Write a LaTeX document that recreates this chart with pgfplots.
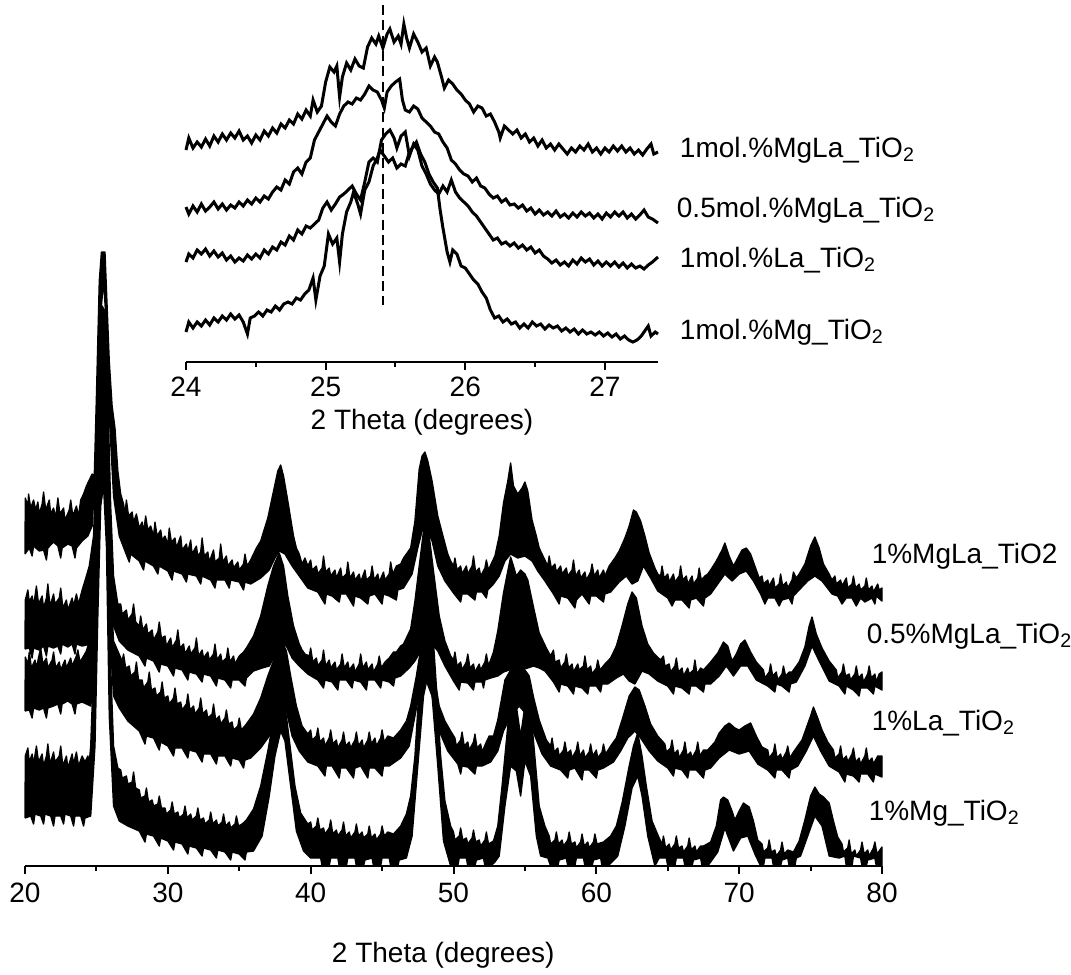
\documentclass[border=0pt]{standalone}
\usepackage{fontspec}
\setmainfont{Liberation Sans}
\usepackage{pgfplots}
\pgfplotsset{compat=1.18}
\pgfplotsset{
  xrdaxis/.style={
    scale only axis, axis x line=bottom, axis y line=none,
    x axis line style={-, line width=0.6pt},
    tick align=outside, major tick length=2.4pt, minor tick length=1.5pt,
    every tick/.style={line width=0.6pt, black},
    /pgf/number format/assume math mode=true,
    clip=false,
  },
  band/.style={fill=black, draw=black, line width=0.4pt, line join=round},
}
\begin{document}
\begin{tikzpicture}[font=\fontsize{8.4}{10}\selectfont]
\useasboundingbox (0,0) rectangle (321.3pt,-292.2pt);

% main pattern, each series drawn as a filled band (upper envelope, then lower envelope back)
\begin{axis}[xrdaxis,
  at={(7.5pt,-259.8pt)}, anchor=south west,
  width=257.1pt, height=186pt,
  xmin=20, xmax=80, ymin=0, ymax=620,
  xtick={20,30,...,80}, minor xtick={25,35,...,75},
  xticklabel style={anchor=center, yshift=-5.6pt},
  xlabel={2 Theta (degrees)},
  xlabel style={at={(axis description cs:0.488,0)}, anchor=center, yshift=-26.7pt},
]
% 1%MgLa_TiO2
\addplot[band] coordinates {
(20,312)(20.02,368)(20.2,360)(20.25,372)(20.4,358)(20.6,366)(20.75,356)(20.9,364)(21.0,352)(21.2,362)(21.3,374)(21.45,356)(21.7,366)(21.8,352)(22.0,358)(22.15,348)(22.3,368)(22.45,352)(22.7,358)(22.8,346)(23.1,356)(23.2,366)(23.35,350)(23.6,360)(23.75,350)(23.9,366)(24.1,372)(24.3,380)(24.5,386)(24.7,392)(24.85,390)
(25.0,470)(25.2,585)(25.35,614)(25.6,614)(25.75,560)(25.9,505)(26.1,460)(26.3,438)(26.5,395)(26.7,372)
(26.9,362)(27.0,352)(27.1,366)(27.25,350)(27.5,354)(27.6,344)(27.8,352)(28.0,338)(28.2,344)(28.3,334)(28.45,350)(28.6,336)(28.8,340)(29.0,330)(29.1,344)(29.25,330)(29.5,336)(29.6,326)(29.8,330)(30.0,322)(30.1,338)(30.25,324)(30.5,328)(30.6,318)(30.9,330)(31.0,316)(31.3,322)(31.4,314)(31.6,326)(31.7,312)(32.0,320)(32.1,310)(32.3,314)(32.4,328)(32.55,310)(32.8,314)(32.9,304)(33.2,316)(33.3,304)(33.6,308)(33.7,322)(33.85,304)(34.1,310)(34.2,300)(34.5,306)(34.6,298)(34.9,304)(35.0,296)(35.3,302)(35.4,312)(35.55,300)(35.8,306)(36.0,312)(36.2,318)(36.5,325)
(37,348)(37.4,375)(37.7,395)(37.9,401)(38.1,390)(38.4,365)(38.8,330)(39.0,318)(39.2,312)(39.4,302)(39.6,308)
(39.8,300)(40.0,306)(40.1,296)(40.4,300)(40.5,292)(40.8,298)(40.9,310)(41.05,294)(41.3,298)(41.4,290)(41.7,296)(41.8,288)(42.1,298)(42.2,288)(42.5,292)(42.6,304)(42.75,288)(43.0,294)(43.1,286)(43.4,292)(43.5,284)(43.8,296)(43.9,286)(44.2,290)(44.3,300)(44.45,286)(44.7,292)(44.8,284)(45.1,294)(45.2,286)(45.5,292)(45.6,304)(45.75,292)(46.0,300)(46.3,302)(46.5,308)(46.7,312)
(47,318)(47.3,345)(47.6,397)(47.8,410)(48.0,414)(48.2,405)(48.5,385)(48.9,350)(49.3,328)(49.6,312)(49.8,305)
(50.0,300)(50.1,308)(50.25,296)(50.5,300)(50.6,292)(50.9,300)(51.0,292)(51.3,300)(51.4,310)(51.55,294)(51.8,298)(51.9,290)(52.2,298)(52.3,306)(52.45,296)(52.7,304)(52.9,310)
(53.2,330)(53.5,363)(53.8,385)(54.0,403)(54.2,380)(54.5,372)(54.8,378)(55.0,384)(55.2,375)(55.5,346)(55.8,330)(56.0,318)(56.2,312)(56.4,306)
(56.6,300)(56.7,310)(56.85,298)(57.1,302)(57.2,294)(57.5,300)(57.6,292)(57.9,298)(58.0,290)(58.3,296)(58.4,306)(58.55,290)(58.8,296)(58.9,288)(59.2,294)(59.3,286)(59.6,294)(59.7,302)(59.85,290)(60.1,296)(60.2,288)(60.5,296)(60.6,290)(60.9,300)(61.1,304)(61.3,308)
(61.6,315)(62.0,328)(62.3,340)(62.6,356)(62.8,354)(63.1,345)(63.4,330)(63.7,313)(64.1,298)(64.3,292)
(64.5,290)(64.6,300)(64.75,288)(65.0,292)(65.1,284)(65.4,292)(65.5,284)(65.8,290)(65.9,300)(66.05,286)(66.3,290)(66.4,282)(66.7,290)(66.8,282)(67.1,288)(67.2,298)(67.35,286)(67.6,290)(67.8,292)(68.0,296)
(68.4,305)(68.8,316)(69.0,323)(69.3,310)(69.6,300)(69.9,308)(70.2,316)(70.5,318)(70.8,312)(71.1,300)(71.4,288)
(71.6,290)(71.7,282)(72.0,286)(72.1,280)(72.4,288)(72.5,278)(72.8,282)(72.9,292)(73.05,280)(73.3,284)(73.4,278)(73.7,286)(73.8,294)(74.0,288)(74.2,292)
(74.6,302)(75.0,320)(75.3,329)(75.6,318)(75.9,302)(76.3,292)(76.5,286)
(76.7,290)(76.8,282)(77.1,286)(77.2,280)(77.5,288)(77.6,278)(77.9,282)(78.0,290)(78.15,278)(78.4,282)(78.5,276)(78.8,280)(78.9,288)(79.05,276)(79.3,280)(79.4,274)(79.7,282)(79.8,276)(80,278)
(80,265)(79.6,270)(79.5,262)(79.3,268)(78.8,264)(78.5,268)(78.2,260)(77.9,268)(77.5,268)(77.2,262)(76.9,270)(76.5,272)(75.8,285)(75.3,290)(74.8,285)(74.2,276)(73.8,270)(73.7,262)(73.5,268)(73.0,266)(72.8,260)(72.5,268)(72.0,268)(71.8,262)(71.5,272)(71.0,285)(70.5,295)(70.0,292)(69.5,285)(69.0,292)(68.5,282)(68.0,272)(67.6,268)(67.5,260)(67,268)(66.6,266)(66.5,258)(66,266)(65.5,266)(65.3,260)(65,268)(64.3,275)(63.8,288)(63.3,300)(62.9,285)(62.5,282)(62.1,290)(61.6,284)(61,274)(60.6,272)(60.5,264)(60,270)(59.6,270)(59.5,262)(59,272)(58.6,266)(58.5,258)(58,268)(57.5,270)(57.4,262)(57,272)(56.4,285)(55.9,295)(55.5,305)(55.0,310)(54.5,308)(54.0,312)(53.6,305)(53.2,290)(52.8,282)(52.4,276)(52.3,268)(52,274)(51.6,274)(51.5,266)(51,272)(50.6,272)(50.5,264)(50,273)(49.4,285)(48.9,300)(48.5,325)(48.1,338)(47.8,335)(47.5,318)(47.1,292)(46.5,278)(46.1,276)(46.0,266)(45.5,270)(45.1,272)(45.0,262)(44.5,272)(44.1,270)(44.0,262)(43.5,268)(43.1,270)(43.0,260)(42.5,272)(42.1,272)(42.0,264)(41.5,270)(41.1,272)(41.0,262)(40.5,274)(39.8,278)(39.2,290)(38.7,300)(38.2,312)(37.8,315)(37.5,308)(37.1,296)(36.5,288)(35.8,282)(35.4,284)(35.3,276)(35,284)(34.4,286)(34.3,278)(34,286)(33.4,286)(33.3,278)(33,286)(32.4,290)(32.3,282)(32,290)(31.4,292)(31.3,284)(31,292)(30.4,295)(30.3,286)(30,295)(29.4,300)(29.3,292)(29,300)(28.4,305)(28.3,296)(28,305)(27.4,312)(27.3,304)(27,315)(26.6,330)(26.2,370)(25.9,450)(25.7,540)(25.5,585)(25.35,560)(25.15,500)(24.95,400)(24.7,340)(24.4,330)(24.0,325)(23.6,318)(23.5,308)(23.3,320)(23,322)(22.6,318)(22.5,308)(22.3,320)(22,324)(21.6,318)(21.5,306)(21.3,316)(21,315)(20.6,320)(20.5,310)(20.3,318)(20,312)
};
% 0.5%MgLa_TiO2
\addplot[band] coordinates {
(20,217)(20.02,266)(20.2,276)(20.3,264)(20.5,270)(20.6,260)(20.8,280)(20.95,262)(21.2,270)(21.3,258)(21.5,268)(21.6,282)(21.75,260)(22.0,272)(22.1,262)(22.4,268)(22.5,278)(22.65,258)(22.9,266)(23.0,256)(23.3,268)(23.4,260)(23.6,272)(23.75,262)(24.0,276)(24.3,290)(24.5,300)(24.8,330)(25.0,420)(25.2,530)(25.4,560)(25.6,555)(25.8,470)(26.0,360)(26.2,290)(26.5,262)(26.7,262)(26.8,252)(27.1,256)(27.2,246)(27.5,252)(27.6,262)(27.75,244)(28.0,240)(28.1,250)(28.25,236)(28.5,242)(28.6,232)(28.9,236)(29.0,226)(29.3,234)(29.4,244)(29.55,228)(29.8,230)(29.9,220)(30.2,228)(30.3,218)(30.6,226)(30.7,236)(30.85,218)(31.1,222)(31.2,212)(31.5,220)(31.6,212)(31.9,218)(32.0,228)(32.15,210)(32.4,216)(32.5,208)(32.8,214)(32.9,206)(33.2,212)(33.3,222)(33.45,206)(33.7,212)(33.8,204)(34.1,208)(34.2,218)(34.35,204)(34.6,210)(34.7,202)(35.0,210)(35.3,214)(35.5,218)(36,230)(36.5,250)(37,280)(37.4,300)(37.8,313)(38.1,300)(38.4,270)(38.8,240)(39.2,222)(39.4,216)(39.6,212)(39.9,210)(40.0,218)(40.15,204)(40.4,208)(40.5,200)(40.8,206)(40.9,216)(41.05,200)(41.3,206)(41.4,198)(41.7,204)(41.8,196)(42.1,202)(42.2,212)(42.35,198)(42.6,204)(42.7,196)(43.0,202)(43.1,194)(43.4,202)(43.5,212)(43.65,198)(43.9,204)(44.0,196)(44.3,202)(44.4,194)(44.7,202)(44.8,210)(44.95,198)(45.2,204)(45.5,208)(45.8,214)(46,214)(46.3,220)(46.5,222)(47,237)(47.3,265)(47.6,300)(47.9,335)(48.1,340)(48.3,330)(48.6,295)(49,250)(49.4,225)(49.8,210)(50.0,206)(50.1,214)(50.25,200)(50.5,204)(50.6,196)(50.9,204)(51.0,212)(51.15,198)(51.4,202)(51.5,194)(51.8,202)(51.9,196)(52.2,204)(52.3,212)(52.45,200)(52.8,214)(53.1,235)(53.5,273)(53.8,295)(54.0,309)(54.2,300)(54.4,290)(54.7,296)(55.0,292)(55.2,286)(55.6,259)(56.0,233)(56.5,218)(56.8,210)(57.0,216)(57.1,204)(57.4,206)(57.5,198)(57.8,204)(57.9,212)(58.05,198)(58.3,202)(58.4,194)(58.7,202)(58.8,196)(59.1,200)(59.2,210)(59.35,196)(59.6,200)(59.7,192)(60.0,198)(60.1,206)(60.25,196)(60.6,202)(61,208)(61.4,220)(61.8,240)(62.2,262)(62.5,274)(62.8,268)(63.2,240)(63.6,222)(64,213)(64.5,206)(64.7,210)(64.8,200)(65.1,202)(65.2,194)(65.5,200)(65.6,208)(65.75,194)(66.0,198)(66.1,190)(66.4,198)(66.5,192)(66.8,196)(66.9,206)(67.05,192)(67.3,198)(67.5,196)(68,204)(68.5,213)(68.9,224)(69.2,220)(69.5,205)(69.8,212)(70.1,222)(70.4,226)(70.8,214)(71.2,204)(71.7,196)(71.8,188)(72.1,194)(72.2,202)(72.35,190)(72.6,194)(72.7,186)(73.0,192)(73.1,200)(73.25,190)(73.5,194)(73.7,194)(74.2,204)(74.6,219)(74.9,240)(75.1,249)(75.4,232)(75.8,218)(76.3,205)(76.8,196)(76.9,188)(77.2,194)(77.3,202)(77.45,190)(77.7,192)(77.8,186)(78.1,192)(78.2,200)(78.35,188)(78.6,192)(78.7,184)(79.0,192)(79.1,200)(79.25,188)(79.5,192)(79.6,184)(79.8,192)(80,194)
(80,176)(79.5,180)(79.4,172)(79,178)(78.5,178)(78.4,170)(78,176)(77.5,180)(77.4,172)(77,180)(76.3,185)(75.6,205)(75.1,220)(74.6,200)(74,184)(73.6,182)(73.5,174)(73,180)(72.6,182)(72.5,174)(72,180)(71.2,186)(70.6,200)(70.1,200)(69.6,190)(69.1,200)(68.6,190)(68,182)(67.6,182)(67.5,174)(67,180)(66.6,180)(66.5,172)(66,178)(65.5,180)(65.4,172)(65,180)(64.3,185)(63.7,192)(63.2,195)(62.7,182)(62.3,185)(61.9,192)(61.4,188)(60.8,182)(60.4,182)(60.3,174)(60,180)(59.5,180)(59.4,172)(59,178)(58.5,180)(58.4,172)(58,180)(57.5,182)(57.4,174)(57,184)(56.4,195)(56,198)(55.6,200)(55.2,198)(54.7,196)(54.3,198)(53.9,196)(53.5,194)(53.1,190)(52.6,188)(52.2,186)(52.1,178)(52,184)(51.5,184)(51.4,176)(51,183)(50.5,184)(50.4,176)(50,185)(49.4,200)(48.9,215)(48.5,222)(48.1,222)(47.7,215)(47.3,205)(46.9,198)(46.3,190)(45.9,188)(45.8,180)(45.5,184)(45.0,186)(44.9,178)(44.5,186)(44.0,186)(43.9,176)(43.5,184)(43.0,186)(42.9,178)(42.5,186)(42.0,186)(41.9,176)(41.5,184)(41.0,186)(40.9,178)(40.5,186)(39.8,192)(39.2,200)(38.7,208)(38.3,220)(37.9,222)(37.5,210)(37.1,200)(36.6,198)(36,195)(35.5,188)(35.4,180)(35,186)(34.5,186)(34.4,178)(34,186)(33.5,188)(33.4,180)(33,190)(32.5,192)(32.4,184)(32,192)(31.5,194)(31.4,186)(31,196)(30.5,198)(30.4,190)(30,200)(29.5,202)(29.4,194)(29,205)(28.5,208)(28.4,200)(28,210)(27.2,216)(26.6,225)(26.2,240)(25.9,300)(25.7,430)(25.5,480)(25.3,470)(25.1,380)(24.9,260)(24.6,222)(24,220)(23.6,222)(23.5,212)(23.3,222)(23,219)(22.6,222)(22.5,212)(22.3,220)(22,218)(21.6,220)(21.5,210)(21.3,220)(21,216)(20.6,218)(20.5,208)(20.3,218)(20,217)
};
% 1%La_TiO2
\addplot[band] coordinates {
(20,155)(20.02,209)(20.2,202)(20.3,214)(20.45,198)(20.7,206)(20.8,198)(21.0,212)(21.1,218)(21.25,202)(21.5,208)(21.6,198)(21.9,206)(22.0,214)(22.15,198)(22.4,204)(22.5,196)(22.8,206)(22.9,198)(23.2,208)(23.3,200)(23.6,210)(23.7,216)(23.85,204)(24.1,210)(24.3,215)(24.5,225)(24.8,260)(25.0,360)(25.2,470)(25.4,500)(25.6,495)(25.8,400)(26.0,280)(26.2,225)(26.5,215)(26.8,205)(26.9,212)(27.05,198)(27.3,200)(27.4,190)(27.7,194)(27.8,204)(27.95,186)(28.2,186)(28.3,178)(28.6,184)(28.7,194)(28.85,176)(29.1,178)(29.2,170)(29.5,174)(29.6,184)(29.75,168)(30.0,170)(30.1,162)(30.4,168)(30.5,178)(30.65,162)(30.9,164)(31.0,156)(31.3,162)(31.4,172)(31.55,156)(31.8,160)(31.9,152)(32.2,158)(32.3,168)(32.45,152)(32.7,156)(32.8,148)(33.1,152)(33.2,162)(33.35,146)(33.6,150)(33.7,142)(34.0,148)(34.1,156)(34.25,142)(34.5,144)(34.6,136)(34.9,140)(35.0,148)(35.15,136)(35.5,142)(36,152)(36.5,168)(37,190)(37.5,209)(38.0,225)(38.3,215)(38.6,190)(39,160)(39.4,140)(39.8,132)(40.0,136)(40.1,126)(40.4,130)(40.5,138)(40.65,124)(40.9,128)(41.0,120)(41.3,128)(41.4,136)(41.55,122)(41.8,126)(41.9,118)(42.2,126)(42.3,134)(42.45,120)(42.7,124)(42.8,118)(43.1,126)(43.2,134)(43.35,120)(43.6,126)(43.7,118)(44.0,126)(44.1,134)(44.25,122)(44.5,128)(44.6,120)(44.9,128)(45.0,136)(45.15,124)(45.4,130)(45.8,128)(46.3,136)(46.7,145)(47,160)(47.4,190)(47.7,217)(48.0,225)(48.3,222)(48.6,195)(49,160)(49.4,145)(49.8,135)(50.1,128)(50.2,120)(50.5,126)(50.6,134)(50.75,120)(51.0,124)(51.1,116)(51.4,124)(51.5,132)(51.65,118)(51.9,122)(52.0,114)(52.3,124)(52.5,130)(52.8,130)(53.1,146)(53.6,186)(54.0,196)(54.5,199)(55.0,196)(55.3,190)(55.6,169)(56,146)(56.5,126)(56.8,120)(56.9,128)(57.05,114)(57.3,118)(57.4,110)(57.7,116)(57.8,124)(57.95,112)(58.2,116)(58.3,108)(58.6,116)(58.7,124)(58.85,110)(59.1,116)(59.2,108)(59.5,114)(59.6,122)(59.75,110)(60.0,116)(60.1,108)(60.4,114)(60.5,122)(60.65,112)(61,120)(61.4,128)(61.8,146)(62.3,170)(62.7,179)(63.0,176)(63.4,160)(63.8,142)(64.3,130)(64.8,122)(64.9,114)(65.2,118)(65.3,126)(65.45,112)(65.7,116)(65.8,108)(66.1,116)(66.2,124)(66.35,110)(66.6,114)(66.7,108)(67.0,116)(67.1,124)(67.25,110)(67.5,116)(67.8,116)(68.3,124)(68.6,133)(69,140)(69.3,143)(69.7,138)(70,136)(70.4,140)(70.8,143)(71.2,130)(71.6,119)(72,116)(72.1,108)(72.4,114)(72.5,122)(72.65,108)(72.9,112)(73.0,106)(73.3,114)(73.4,120)(73.55,108)(73.8,114)(74,118)(74.4,126)(74.7,138)(75.0,150)(75.2,159)(75.5,148)(75.8,136)(76.2,124)(76.6,116)(76.7,108)(77.0,112)(77.1,120)(77.25,106)(77.5,110)(77.6,104)(77.9,112)(78.0,118)(78.15,104)(78.4,108)(78.5,102)(78.8,110)(78.9,118)(79.05,104)(79.3,108)(79.4,102)(79.7,110)(80,110)
(80,89)(79.5,92)(79.4,84)(79,92)(78.5,92)(78.4,84)(78,90)(77.5,92)(77.4,84)(77,94)(76.3,100)(75.7,115)(75.2,130)(74.7,115)(74.1,100)(73.6,96)(73.5,88)(73,96)(72.6,96)(72.5,88)(72,96)(71.3,102)(70.7,115)(70,112)(69.3,116)(68.6,108)(68,98)(67.6,96)(67.5,88)(67,96)(66.5,96)(66.4,88)(66,96)(65.5,98)(65.4,90)(65,98)(64.3,105)(63.7,115)(63.1,128)(62.7,135)(62.2,128)(61.7,115)(61.2,104)(60.5,98)(60.1,96)(60.0,88)(59.5,96)(59.1,96)(59.0,86)(58.5,98)(58.1,96)(58.0,88)(57.5,96)(56.8,100)(56.2,112)(55.7,130)(55.2,150)(54.6,160)(54.0,150)(53.5,135)(53.1,115)(52.6,104)(52,100)(51.6,100)(51.5,92)(51,99)(50.6,100)(50.5,92)(50.3,102)(49.6,115)(49,135)(48.5,170)(48.1,185)(47.7,180)(47.3,150)(46.9,120)(46.3,108)(45.5,100)(45.1,100)(45.0,90)(44.5,98)(44.1,98)(44.0,88)(43.5,100)(43.1,98)(43.0,88)(42.5,98)(42.1,98)(42.0,88)(41.5,100)(41.1,100)(41.0,90)(40.5,100)(39.8,104)(39.2,115)(38.7,130)(38.3,155)(37.9,160)(37.5,150)(37.1,130)(36.5,118)(35.8,108)(35.4,106)(35.3,98)(35,106)(34.5,108)(34.4,100)(34,110)(33.5,110)(33.4,102)(33,112)(32.5,112)(32.4,104)(32,114)(31.5,116)(31.4,108)(31,118)(30.5,118)(30.4,110)(30,120)(29.5,124)(29.4,116)(29,128)(28.5,130)(28.4,122)(28,135)(27.2,145)(26.6,158)(26.2,170)(25.9,240)(25.7,380)(25.5,430)(25.3,420)(25.1,320)(24.9,190)(24.6,160)(24,164)(23.6,162)(23.5,152)(23.3,162)(23,165)(22.6,162)(22.5,152)(22.3,162)(22,160)(21.6,158)(21.5,148)(21.3,158)(21,156)(20.6,158)(20.5,148)(20.3,156)(20,155)
};
% 1%Mg_TiO2
\addplot[band] coordinates {
(20,48)(20.02,110)(20.2,118)(20.3,104)(20.5,112)(20.6,102)(20.8,120)(20.95,104)(21.2,112)(21.3,100)(21.5,110)(21.6,122)(21.75,102)(22.0,114)(22.1,104)(22.4,110)(22.5,120)(22.65,100)(22.9,110)(23.0,98)(23.3,112)(23.4,102)(23.6,114)(23.75,100)(24.0,110)(24.2,104)(24.4,110)(24.5,104)(24.6,120)(24.8,200)(25.0,300)(25.2,420)(25.4,450)(25.6,440)(25.8,330)(26.0,200)(26.2,120)(26.5,98)(26.7,96)(26.8,88)(27.1,90)(27.2,82)(27.5,84)(27.6,94)(27.75,78)(28.0,76)(28.1,68)(28.4,70)(28.5,78)(28.65,64)(28.9,66)(29.0,60)(29.3,62)(29.4,70)(29.55,58)(29.8,58)(29.9,52)(30.2,56)(30.3,64)(30.45,52)(30.7,54)(30.8,48)(31.1,52)(31.2,60)(31.35,48)(31.6,52)(31.7,46)(32.0,50)(32.1,58)(32.25,46)(32.5,48)(32.6,42)(32.9,46)(33.0,54)(33.15,42)(33.4,46)(33.5,40)(33.8,44)(33.9,52)(34.05,40)(34.3,44)(34.4,38)(34.7,42)(34.8,50)(34.95,40)(35.2,42)(35.5,46)(36,57)(36.5,80)(37,115)(37.4,147)(37.8,165)(38.0,168)(38.3,150)(38.6,115)(38.9,80)(39.3,53)(39.8,42)(40.0,44)(40.1,36)(40.4,40)(40.5,48)(40.65,36)(40.9,38)(41.0,32)(41.3,38)(41.4,46)(41.55,32)(41.8,36)(41.9,30)(42.2,36)(42.3,44)(42.45,30)(42.7,34)(42.8,28)(43.1,34)(43.2,42)(43.35,30)(43.6,34)(43.7,28)(44.0,32)(44.1,40)(44.25,28)(44.5,32)(44.6,26)(44.9,32)(45.0,40)(45.15,30)(45.4,34)(45.8,32)(46.3,40)(46.7,52)(47.0,70)(47.3,110)(47.6,180)(47.9,240)(48.2,255)(48.5,245)(48.8,180)(49.1,110)(49.4,65)(49.8,40)(50.0,34)(50.1,26)(50.4,30)(50.5,38)(50.65,26)(50.9,28)(51.0,22)(51.3,28)(51.4,36)(51.55,24)(51.8,26)(51.9,20)(52.2,26)(52.3,34)(52.45,22)(52.8,25)(53.1,40)(53.4,80)(53.8,140)(54.1,172)(54.4,160)(54.7,130)(55.0,160)(55.3,170)(55.6,125)(56.0,60)(56.4,40)(56.7,30)(56.8,22)(57.1,26)(57.2,34)(57.35,22)(57.6,26)(57.7,20)(58.0,26)(58.1,34)(58.25,22)(58.5,24)(58.6,18)(58.9,24)(59.0,32)(59.15,20)(59.4,24)(59.5,18)(59.8,24)(59.9,32)(60.05,22)(60.5,24)(61,30)(61.4,40)(61.8,63)(62.3,100)(62.6,120)(62.9,133)(63.2,110)(63.5,80)(63.9,45)(64.4,28)(64.6,22)(64.7,30)(64.85,18)(65.1,22)(65.2,16)(65.5,22)(65.6,30)(65.75,18)(66.0,20)(66.1,14)(66.4,20)(66.5,28)(66.65,16)(66.9,20)(67.0,14)(67.3,20)(67.5,20)(68,24)(68.4,40)(68.7,66)(68.9,69)(69.2,66)(69.5,55)(69.7,46)(70,55)(70.3,63)(70.7,59)(71.0,45)(71.3,26)(71.6,22)(71.7,14)(72.0,18)(72.1,26)(72.25,14)(72.5,16)(72.6,10)(72.9,16)(73.0,24)(73.15,12)(73.4,16)(73.8,14)(74.2,25)(74.6,46)(75.0,70)(75.3,79)(75.6,72)(75.9,69)(76.3,63)(76.6,45)(76.9,29)(77.2,22)(77.3,14)(77.6,18)(77.7,26)(77.85,12)(78.1,16)(78.2,10)(78.5,16)(78.6,24)(78.75,12)(79.0,16)(79.1,10)(79.4,18)(79.5,24)(79.65,12)(80,19)
(80,0)(79.6,0)(79.5,8)(79.0,6)(78.9,0)(78.6,0)(78.5,8)(78.0,10)(77.9,0)(77.5,0)(77.4,10)(77,8)(76.3,10)(75.8,40)(75.3,50)(74.8,30)(74.3,10)(74.0,8)(73.9,0)(73.5,0)(73.4,8)(73.0,6)(72.9,0)(72.4,0)(72.3,8)(71.8,8)(71.7,0)(71.5,0)(71.1,12)(70.6,30)(70.1,28)(69.6,15)(69.0,38)(68.5,14)(68.1,6)(67.8,0)(67.4,0)(67.3,8)(66.8,6)(66.7,0)(66.2,0)(66.1,8)(65.6,8)(65.5,0)(65.0,0)(64.9,8)(64.4,8)(64.1,0)(63.6,30)(63.2,70)(62.9,90)(62.5,78)(62.0,40)(61.5,10)(61.1,4)(60.8,0)(60.4,0)(60.3,8)(59.8,6)(59.7,0)(59.2,0)(59.1,8)(58.6,8)(58.5,0)(58.0,0)(57.9,8)(57.4,6)(57.3,0)(56.8,0)(56.6,8)(56.1,10)(55.8,30)(55.4,90)(55.0,105)(54.7,70)(54.4,95)(54.0,100)(53.6,60)(53.2,10)(52.9,4)(52.6,0)(52.2,0)(52.1,8)(51.6,6)(51.5,0)(51.0,0)(50.9,8)(50.4,8)(50.3,0)(49.8,0)(49.3,25)(48.9,100)(48.5,170)(48.2,190)(47.9,170)(47.5,100)(47.1,30)(46.7,8)(46.2,6)(46.1,0)(45.6,0)(45.5,8)(45.0,8)(44.9,0)(44.4,0)(44.3,8)(43.8,6)(43.7,0)(43.2,0)(43.1,8)(42.6,8)(42.5,0)(42.0,0)(41.9,8)(41.4,8)(41.3,0)(40.8,0)(40.7,8)(40,8)(39.5,15)(39,35)(38.6,80)(38.2,125)(37.9,135)(37.5,110)(37.1,70)(36.6,30)(36,15)(35.5,14)(35.4,6)(35,12)(34.5,14)(34.4,6)(34,14)(33.5,16)(33.4,8)(33,16)(32.5,18)(32.4,10)(32,18)(31.5,20)(31.4,12)(31,22)(30.5,24)(30.4,16)(30,25)(29.5,28)(29.4,20)(29,30)(28.5,32)(28.4,24)(28,35)(27.2,40)(26.6,45)(26.2,60)(25.9,150)(25.7,320)(25.5,380)(25.3,360)(25.1,250)(24.9,120)(24.6,50)(24.2,48)(24.1,40)(23.9,50)(23.5,50)(23.4,40)(23.2,50)(22.8,52)(22.7,42)(22.5,50)(22.1,50)(22.0,40)(21.8,50)(21.4,52)(21.3,42)(21.1,50)(20.7,52)(20.6,42)(20.4,50)(20,48)
};
\node[anchor=base west] at (axis cs:78.46,303) {1\%MgLa\_TiO2};
\node[anchor=base west] at (axis cs:78.11,223) {0.5\%MgLa\_TiO\textsubscript{2}};
\node[anchor=base west] at (axis cs:78.46,136) {1\%La\_TiO\textsubscript{2}};
\node[anchor=base west] at (axis cs:78.25,46) {1\%Mg\_TiO\textsubscript{2}};
\end{axis}

% inset: zoom on the (101) reflection
\begin{axis}[xrdaxis,
  at={(55.8pt,-108.6pt)}, anchor=south west,
  width=141.6pt, height=102pt,
  xmin=24, xmax=27.38, ymin=0, ymax=340,
  xtick={24,25,26,27}, minor xtick={24.5,25.5,26.5},
  xticklabel style={anchor=center, yshift=-5.1pt},
  xlabel={2 Theta (degrees)},
  xlabel style={at={(axis description cs:0.5,0)}, anchor=center, yshift=-18pt},
]
\addplot[black, line width=0.9pt] coordinates {
(24.00,212)(24.02,224)(24.05,214)(24.08,220)(24.11,215)(24.14,223)(24.17,216)(24.20,226)(24.23,220)(24.26,228)(24.29,222)(24.32,229)(24.35,224)(24.38,231)(24.41,222)(24.44,226)(24.47,219)(24.50,227)(24.53,222)(24.56,231)(24.59,226)(24.62,234)(24.65,229)(24.68,238)(24.71,234)(24.74,242)(24.77,238)(24.80,248)(24.83,243)(24.86,252)(24.89,246)(24.91,262)(24.94,250)(24.97,256)(25.00,280)(25.03,295)(25.06,290)(25.08,296)(25.10,265)(25.12,285)(25.15,299)(25.18,292)(25.21,303)(25.24,296)(25.27,294)(25.30,315)(25.33,324)(25.36,318)(25.38,326)(25.41,314)(25.44,328)(25.46,333)(25.49,320)(25.52,326)(25.54,318)(25.56,338)(25.58,324)(25.60,314)(25.63,328)(25.66,320)(25.69,310)(25.72,314)(25.75,296)(25.78,305)(25.80,300)(25.83,285)(25.85,274)(25.88,282)(25.91,278)(25.94,272)(25.97,268)(26.00,262)(26.03,258)(26.06,250)(26.09,256)(26.12,254)(26.15,246)(26.18,248)(26.21,240)(26.24,230)(26.25,224)(26.28,236)(26.31,232)(26.34,228)(26.37,232)(26.40,224)(26.43,228)(26.46,220)(26.49,224)(26.52,216)(26.55,222)(26.58,214)(26.61,218)(26.64,212)(26.67,218)(26.70,213)(26.73,208)(26.76,214)(26.79,210)(26.82,216)(26.85,212)(26.88,218)(26.91,210)(26.94,214)(26.97,208)(27.00,214)(27.03,210)(27.06,216)(27.09,211)(27.12,216)(27.15,210)(27.18,214)(27.21,208)(27.24,212)(27.27,207)(27.30,213)(27.33,218)(27.35,208)(27.38,210)
};
\addplot[black, line width=0.9pt] coordinates {
(24.00,155)(24.02,148)(24.05,156)(24.08,150)(24.11,158)(24.14,151)(24.17,155)(24.20,160)(24.23,153)(24.26,158)(24.29,152)(24.32,157)(24.35,154)(24.38,160)(24.41,156)(24.44,162)(24.47,158)(24.50,164)(24.53,160)(24.56,166)(24.59,163)(24.62,170)(24.65,175)(24.68,172)(24.71,182)(24.74,178)(24.77,190)(24.80,194)(24.83,188)(24.86,200)(24.89,204)(24.92,222)(24.95,230)(24.98,238)(25.01,246)(25.04,240)(25.07,236)(25.10,248)(25.13,256)(25.16,260)(25.19,258)(25.22,264)(25.25,262)(25.28,268)(25.31,276)(25.34,272)(25.37,270)(25.40,262)(25.42,254)(25.44,270)(25.47,276)(25.50,280)(25.53,283)(25.55,262)(25.57,252)(25.60,250)(25.63,256)(25.66,253)(25.69,244)(25.72,240)(25.75,236)(25.78,230)(25.81,228)(25.84,220)(25.87,214)(25.90,202)(25.93,198)(25.96,192)(25.99,188)(26.02,186)(26.05,180)(26.08,184)(26.11,176)(26.14,174)(26.17,168)(26.20,164)(26.23,166)(26.26,160)(26.29,163)(26.32,157)(26.35,158)(26.38,154)(26.41,157)(26.44,151)(26.47,154)(26.50,148)(26.53,152)(26.56,147)(26.59,150)(26.62,146)(26.65,151)(26.68,145)(26.71,148)(26.74,144)(26.77,149)(26.80,145)(26.83,150)(26.86,146)(26.89,149)(26.92,144)(26.95,148)(26.98,143)(27.01,149)(27.04,145)(27.07,150)(27.10,146)(27.13,150)(27.16,144)(27.19,148)(27.22,143)(27.25,147)(27.28,152)(27.31,145)(27.34,143)(27.38,139)
};
\addplot[black, line width=0.9pt] coordinates {
(24.00,100)(24.02,108)(24.05,104)(24.08,112)(24.11,108)(24.14,113)(24.17,106)(24.20,111)(24.23,105)(24.26,109)(24.29,102)(24.32,106)(24.35,100)(24.38,104)(24.41,101)(24.44,107)(24.47,103)(24.50,108)(24.53,104)(24.56,112)(24.59,108)(24.62,115)(24.65,112)(24.68,120)(24.71,117)(24.74,126)(24.77,122)(24.80,132)(24.83,128)(24.86,136)(24.89,134)(24.92,138)(24.95,142)(24.98,154)(25.01,160)(25.04,152)(25.07,158)(25.10,165)(25.13,168)(25.16,172)(25.19,176)(25.22,168)(25.25,162)(25.28,180)(25.31,200)(25.34,204)(25.37,200)(25.40,222)(25.43,228)(25.46,232)(25.49,224)(25.51,214)(25.54,226)(25.57,230)(25.60,206)(25.63,218)(25.66,212)(25.69,196)(25.72,188)(25.75,178)(25.78,172)(25.81,168)(25.84,176)(25.87,170)(25.90,182)(25.93,170)(25.96,164)(25.99,160)(26.02,156)(26.05,150)(26.08,146)(26.11,140)(26.14,134)(26.17,128)(26.20,122)(26.23,124)(26.26,118)(26.29,120)(26.32,116)(26.35,119)(26.38,114)(26.41,117)(26.44,112)(26.47,115)(26.50,109)(26.53,112)(26.56,106)(26.59,103)(26.62,99)(26.65,102)(26.68,97)(26.71,100)(26.74,96)(26.77,102)(26.80,98)(26.83,104)(26.86,100)(26.89,103)(26.92,97)(26.95,101)(26.98,96)(27.01,100)(27.04,96)(27.07,100)(27.10,95)(27.13,99)(27.16,94)(27.19,98)(27.22,94)(27.25,96)(27.28,93)(27.31,97)(27.34,100)(27.38,105)
};
\addplot[black, line width=0.9pt] coordinates {
(24.00,30)(24.02,40)(24.05,34)(24.08,40)(24.11,36)(24.14,42)(24.17,37)(24.20,44)(24.23,40)(24.26,46)(24.29,42)(24.32,48)(24.35,43)(24.38,47)(24.41,40)(24.44,28)(24.46,44)(24.49,46)(24.52,50)(24.55,46)(24.58,52)(24.61,50)(24.64,56)(24.67,52)(24.70,58)(24.73,60)(24.76,58)(24.79,64)(24.82,62)(24.85,68)(24.88,72)(24.91,84)(24.93,62)(24.96,86)(24.99,96)(25.02,128)(25.05,118)(25.08,124)(25.10,100)(25.12,128)(25.15,150)(25.18,160)(25.20,170)(25.23,158)(25.25,148)(25.28,172)(25.31,180)(25.34,196)(25.37,204)(25.39,212)(25.42,206)(25.45,200)(25.48,204)(25.51,194)(25.54,198)(25.57,196)(25.60,210)(25.63,216)(25.65,220)(25.68,208)(25.71,200)(25.74,188)(25.77,180)(25.80,174)(25.82,152)(25.84,134)(25.87,110)(25.89,100)(25.91,112)(25.94,108)(25.97,96)(26.00,94)(26.03,88)(26.06,82)(26.09,78)(26.12,70)(26.15,64)(26.18,52)(26.21,44)(26.24,46)(26.27,40)(26.30,43)(26.33,38)(26.36,40)(26.39,34)(26.42,38)(26.45,34)(26.48,40)(26.51,36)(26.54,38)(26.57,33)(26.60,37)(26.63,34)(26.66,36)(26.69,31)(26.72,34)(26.75,30)(26.78,33)(26.81,28)(26.84,32)(26.87,28)(26.90,30)(26.93,27)(26.96,30)(26.99,26)(27.02,29)(27.05,25)(27.08,28)(27.11,23)(27.14,26)(27.17,22)(27.20,20)(27.23,22)(27.26,26)(27.29,32)(27.31,36)(27.33,26)(27.36,30)(27.38,28)
};
\addplot[black, line width=0.6pt, dash pattern=on 3pt off 1.6pt] coordinates {(25.41,357)(25.41,57)};
\node[anchor=base west] at (axis cs:27.453,205) {1mol.\%MgLa\_TiO\textsubscript{2}};
\node[anchor=base west] at (axis cs:27.431,145) {0.5mol.\%MgLa\_TiO\textsubscript{2}};
\node[anchor=base west] at (axis cs:27.453,95) {1mol.\%La\_TiO\textsubscript{2}};
\node[anchor=base west] at (axis cs:27.453,23) {1mol.\%Mg\_TiO\textsubscript{2}};
\end{axis}
\end{tikzpicture}
\end{document}
